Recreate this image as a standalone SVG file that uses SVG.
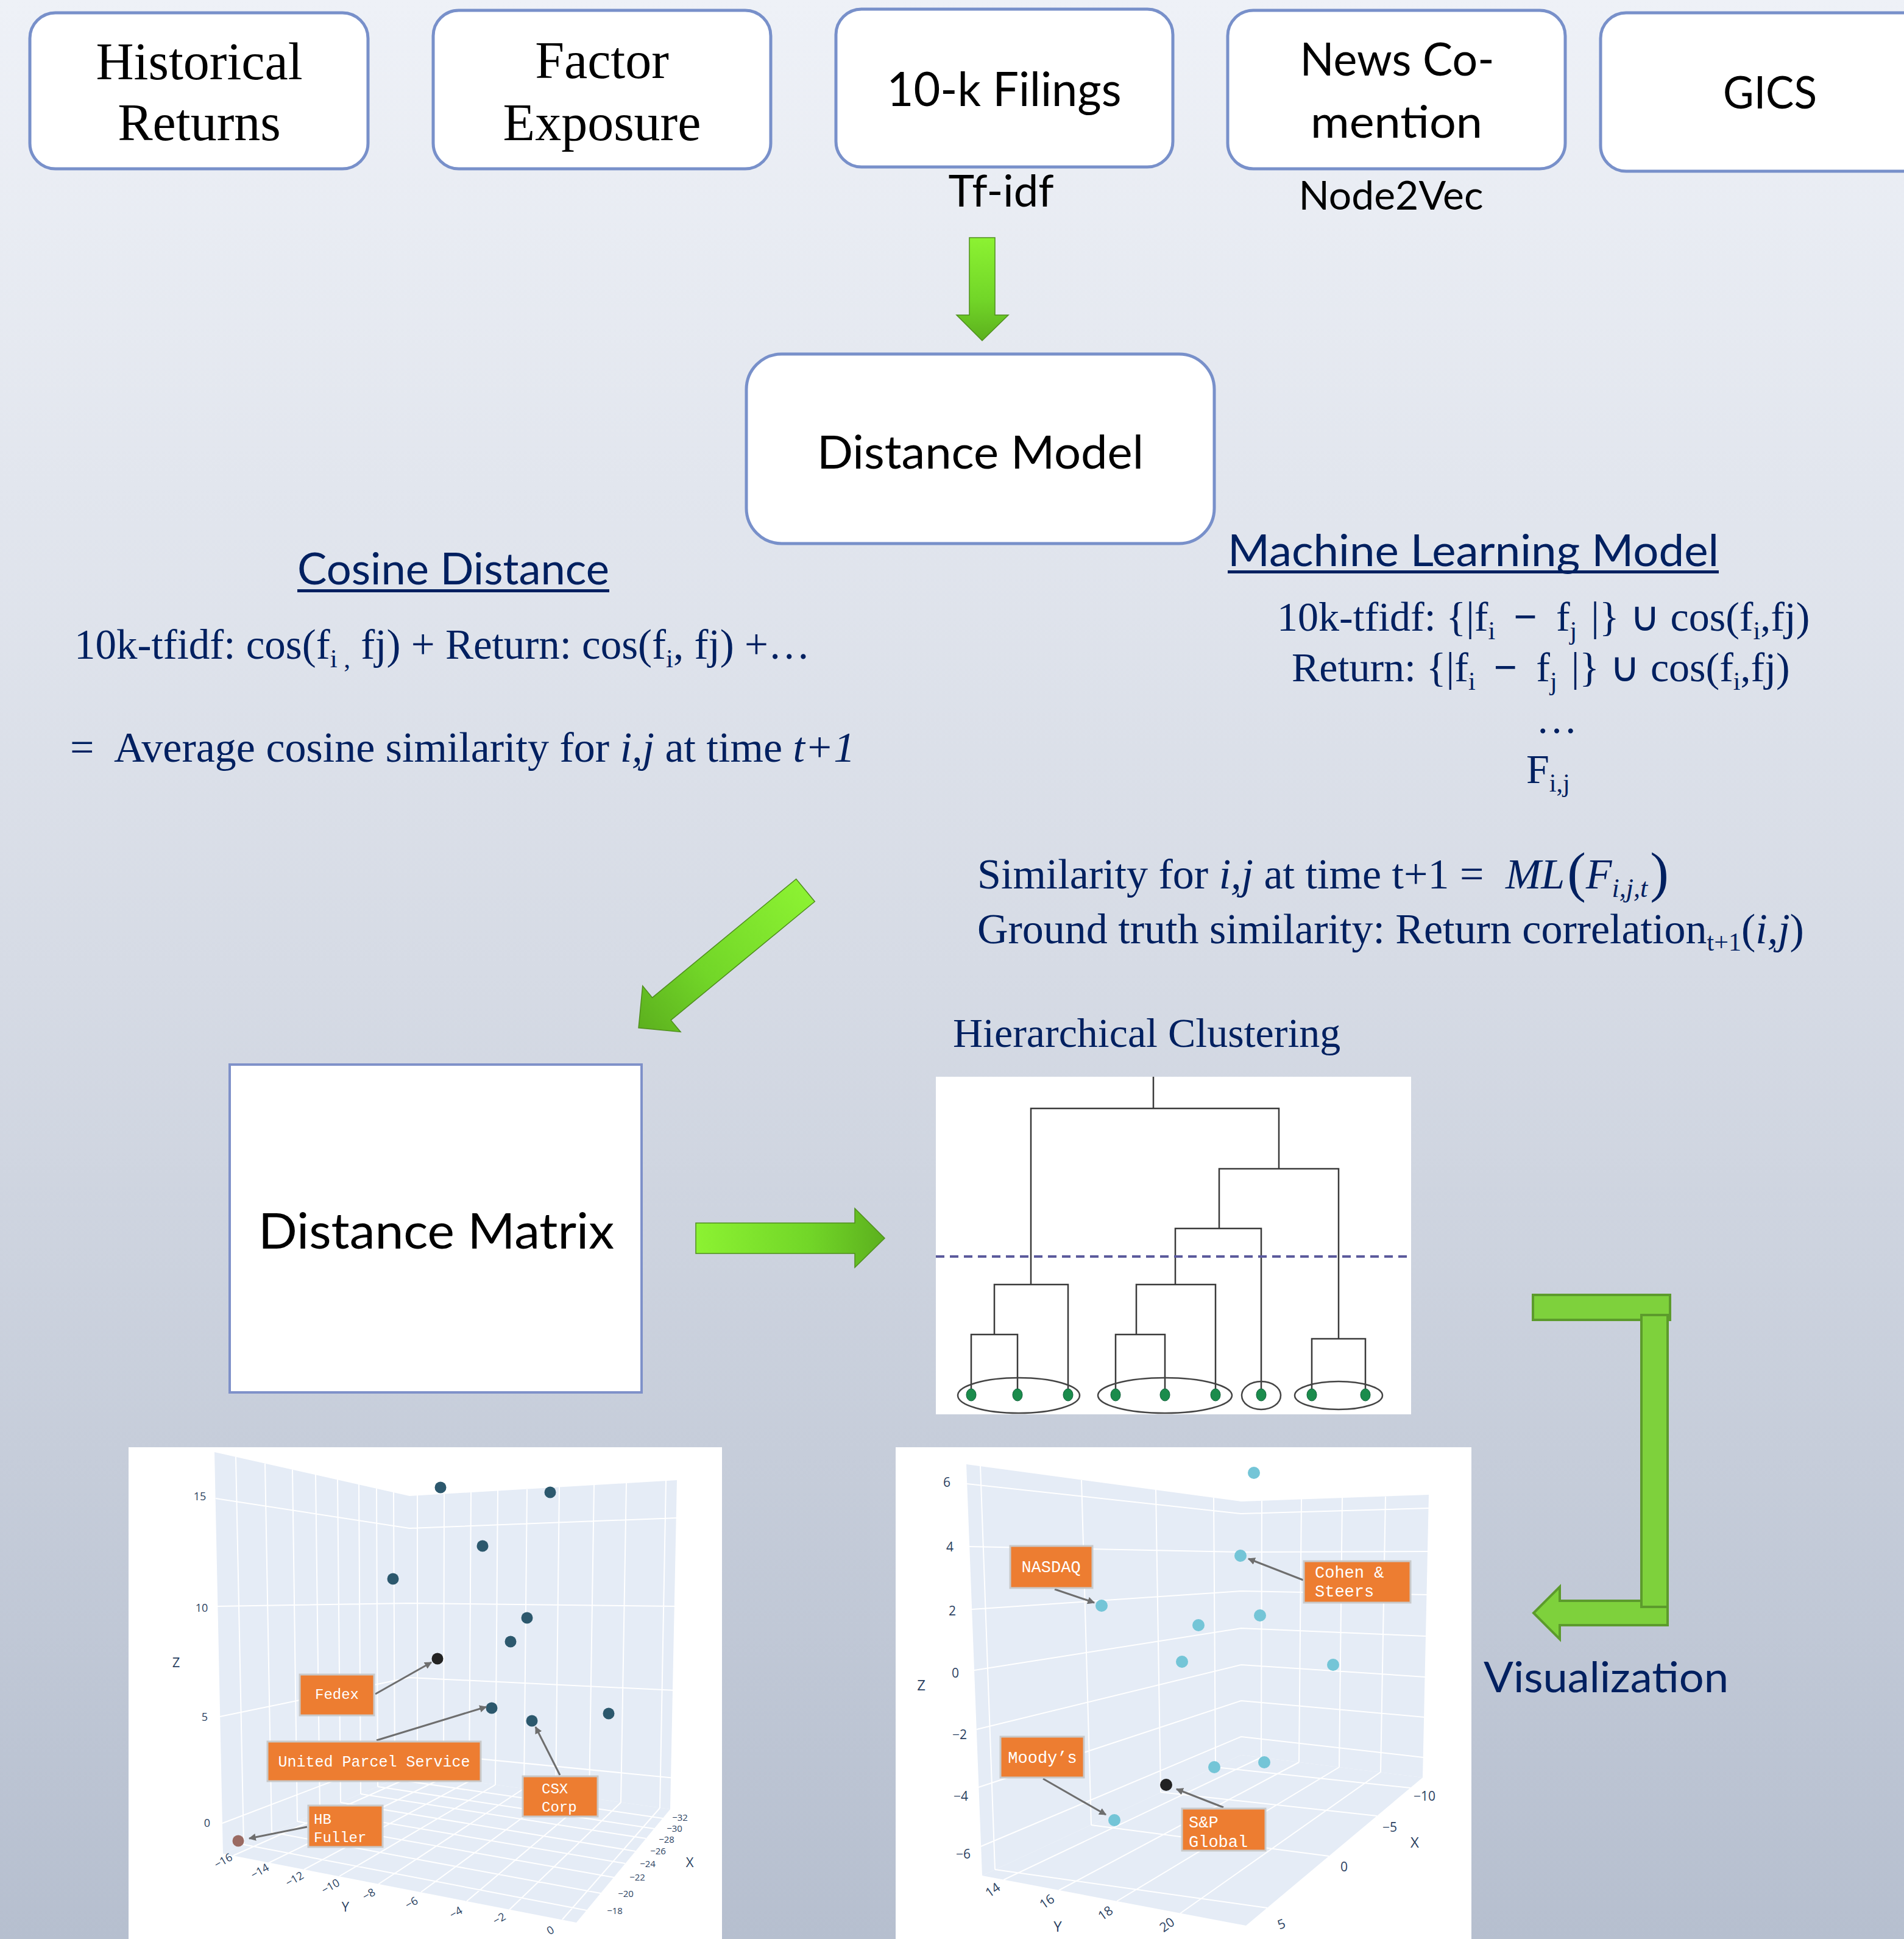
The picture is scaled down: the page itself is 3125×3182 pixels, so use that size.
<svg xmlns="http://www.w3.org/2000/svg" width="3125" height="3182" viewBox="0 0 3125 3182">
<style>
.box{fill:#fff;stroke:#7890CA;stroke-width:5}
.tm{font-family:"Liberation Serif","Times New Roman",serif}
.sn{font-family:Lato,"Liberation Sans",sans-serif}
.navy{fill:#002060}
.blk{fill:#000}
.pane{fill:#E5ECF6}
.grid{stroke:#fff;stroke-width:2;fill:none}
.tick{font-family:"Open Sans","Liberation Sans",sans-serif;fill:#2A3F5F;text-anchor:middle;dominant-baseline:central}
.ann{fill:#ED7D31;stroke:#C9C9C9;stroke-width:3}
.annt{font-family:"Liberation Mono","Courier New",monospace;fill:#fff}
.annl{stroke:#6E6E6E;stroke-width:3;fill:none;marker-end:url(#ah)}
.ptl{fill:#2C586D}
.ptr{fill:#74C5D7}
.dend{stroke:#3A3A3A;stroke-width:2.5;fill:none}
.leaf{fill:#1B8C4C;stroke:#10603A;stroke-width:1}
.clu{stroke:#444;stroke-width:2.5;fill:none}
.garrow{stroke:#4F8F1E;stroke-width:1.5}
.bent{fill:#7ED13C;stroke:#5C9B2C;stroke-width:4}
</style>
<defs>
<linearGradient id="bg" x1="0" y1="0" x2="0" y2="1">
<stop offset="0" stop-color="#EEF1F7"/>
<stop offset="0.5" stop-color="#D6DBE5"/>
<stop offset="1" stop-color="#B6BFCF"/>
</linearGradient>
<linearGradient id="gH" x1="0" y1="0" x2="1" y2="0">
<stop offset="0" stop-color="#8CF232"/>
<stop offset="0.6" stop-color="#72D628"/>
<stop offset="1" stop-color="#5CB01E"/>
</linearGradient>
<linearGradient id="gV" x1="0" y1="0" x2="0" y2="1">
<stop offset="0" stop-color="#8CF232"/>
<stop offset="0.6" stop-color="#72D628"/>
<stop offset="1" stop-color="#5CB01E"/>
</linearGradient>
<marker id="ah" viewBox="0 0 10 10" refX="9" refY="5" markerWidth="4" markerHeight="4" orient="auto" markerUnits="strokeWidth">
<path d="M0,0 L10,5 L0,10 z" fill="#6E6E6E"/>
</marker>
</defs>

<rect x="0" y="0" width="3125" height="3182" fill="url(#bg)"/>

<!-- Top source boxes -->
<g id="historical-returns">
<rect class="box" x="49" y="21" width="555" height="256" rx="42"/>
<text class="tm blk" font-size="86" text-anchor="middle" x="327" y="130">Historical</text>
<text class="tm blk" font-size="86" text-anchor="middle" x="327" y="230">Returns</text>
</g>
<g id="factor-exposure">
<rect class="box" x="711" y="17" width="554" height="260" rx="42"/>
<text class="tm blk" font-size="86" text-anchor="middle" x="988" y="128">Factor</text>
<text class="tm blk" font-size="86" text-anchor="middle" x="988" y="230">Exposure</text>
</g>
<g id="tenk-filings">
<rect class="box" x="1372" y="15" width="553" height="259" rx="42"/>
<text class="sn blk" font-size="77" text-anchor="middle" x="1648" y="174" textLength="385" lengthAdjust="spacingAndGlyphs">10-k Filings</text>
<text class="sn blk" font-size="72" text-anchor="middle" x="1643" y="339" textLength="173" lengthAdjust="spacingAndGlyphs">Tf-idf</text>
</g>
<g id="news-comention">
<rect class="box" x="2015" y="17" width="554" height="260" rx="42"/>
<text class="sn blk" font-size="75" text-anchor="middle" x="2293" y="124" textLength="319" lengthAdjust="spacingAndGlyphs">News Co-</text>
<text class="sn blk" font-size="74" text-anchor="middle" x="2292" y="226" textLength="282" lengthAdjust="spacingAndGlyphs">mention</text>
<text class="sn blk" font-size="65" text-anchor="middle" x="2283" y="344" textLength="303" lengthAdjust="spacingAndGlyphs">Node2Vec</text>
</g>
<g id="gics">
<rect class="box" x="2627" y="21" width="560" height="260" rx="42"/>
<text class="sn blk" font-size="74" text-anchor="middle" x="2905" y="178" textLength="154" lengthAdjust="spacingAndGlyphs">GICS</text>
</g>

<!-- Distance model -->
<g id="distance-model">
<rect class="box" x="1225" y="581" width="768" height="311" rx="58"/>
<text class="sn blk" font-size="76" text-anchor="middle" x="1609" y="769" textLength="536" lengthAdjust="spacingAndGlyphs">Distance Model</text>
</g>

<!-- Cosine distance -->
<g id="cosine-distance">
<text class="sn navy" font-size="72" x="488" y="959" textLength="512" lengthAdjust="spacingAndGlyphs">Cosine Distance</text>
<rect class="navy" x="488" y="967" width="512" height="5"/>
<text class="tm navy" font-size="69" x="122" y="1081">10k-tfidf: cos(f<tspan font-size="43" dy="14">i ,</tspan><tspan dy="-14"> fj) + Return: cos(f</tspan><tspan font-size="43" dy="14">i</tspan><tspan dy="-14">, fj) +…</tspan></text>
<text class="tm navy" font-size="70" x="115" y="1250">=<tspan x="187">Average cosine similarity for </tspan><tspan font-style="italic">i,j</tspan> at time <tspan font-style="italic">t+1</tspan></text>
</g>

<!-- Machine learning model -->
<g id="ml-model">
<text class="sn navy" font-size="72" x="2015" y="929" textLength="806" lengthAdjust="spacingAndGlyphs">Machine Learning Model</text>
<rect class="navy" x="2015" y="936" width="806" height="5"/>
<text class="tm navy" font-size="68" x="2096" y="1035">10k-tfidf: {|f<tspan font-size="42" dy="14">i</tspan><tspan dy="-14" dx="30" font-weight="bold">− </tspan><tspan dx="14">f</tspan><tspan font-size="42" dy="14">j</tspan><tspan dy="-14" dx="6"> |} ∪ cos(f</tspan><tspan font-size="42" dy="14">i</tspan><tspan dy="-14">,fj)</tspan></text>
<text class="tm navy" font-size="68" x="2120" y="1118">Return: {|f<tspan font-size="42" dy="14">i</tspan><tspan dy="-14" dx="30" font-weight="bold">− </tspan><tspan dx="14">f</tspan><tspan font-size="42" dy="14">j</tspan><tspan dy="-14" dx="6"> |} ∪ cos(f</tspan><tspan font-size="42" dy="14">i</tspan><tspan dy="-14">,fj)</tspan></text>
<text class="tm navy" font-size="68" x="2521" y="1203">…</text>
<text class="tm navy" font-size="68" x="2505" y="1285">F<tspan font-size="42" dy="14">i,j</tspan></text>
<text class="tm navy" font-size="70" x="1604" y="1458">Similarity for <tspan font-style="italic">i,j</tspan> at time t+1 = <tspan font-style="italic" dx="18">ML</tspan><tspan font-size="92" dy="4" dx="4">(</tspan><tspan font-style="italic" dy="-4">F</tspan><tspan font-style="italic" font-size="44" dy="14">i,j,t</tspan><tspan font-size="92" dy="-10" dx="4">)</tspan></text>
<text class="tm navy" font-size="70" x="1604" y="1548">Ground truth similarity: Return correlation<tspan font-size="42" dy="12">t+1</tspan><tspan dy="-12">(</tspan><tspan font-style="italic">i,j</tspan>)</text>
</g>

<!-- Distance matrix -->
<g id="distance-matrix">
<rect x="377" y="1747" width="676" height="538" fill="#fff" stroke="#7F91C9" stroke-width="4"/>
<text class="sn blk" font-size="82" x="424" y="2049" textLength="584" lengthAdjust="spacingAndGlyphs">Distance Matrix</text>
</g>

<!-- Hierarchical clustering -->
<g id="hierarchical-clustering">
<text class="tm navy" font-size="68" x="1564" y="1718">Hierarchical Clustering</text>
<rect x="1536" y="1767" width="780" height="554" fill="#fff"/>
<path class="dend" d="M1893,1767 V1819 M1692,2108 V1819 H2099 V1918 M2001,2016 V1918 H2197 V2197 M1929,2108 V2016 H2070 V2289 M1632,2190 V2108 H1753 V2289 M1594,2289 V2190 H1670 V2289 M1865,2190 V2108 H1995 V2289 M1831,2289 V2190 H1912 V2289 M2153,2289 V2197 H2241 V2289"/>
<path d="M1536,2062 H2316" stroke="#5B5A9C" stroke-width="4" stroke-dasharray="14 9" fill="none"/>
<ellipse class="clu" cx="1672" cy="2290" rx="100" ry="29"/>
<ellipse class="clu" cx="1912" cy="2290" rx="110" ry="29"/>
<ellipse class="clu" cx="2070" cy="2290" rx="32" ry="23"/>
<ellipse class="clu" cx="2197" cy="2290" rx="72" ry="23"/>
<g>
<ellipse class="leaf" cx="1594" cy="2289" rx="8" ry="10"/>
<ellipse class="leaf" cx="1670" cy="2289" rx="8" ry="10"/>
<ellipse class="leaf" cx="1753" cy="2289" rx="8" ry="10"/>
<ellipse class="leaf" cx="1831" cy="2289" rx="8" ry="10"/>
<ellipse class="leaf" cx="1912" cy="2289" rx="8" ry="10"/>
<ellipse class="leaf" cx="1995" cy="2289" rx="8" ry="10"/>
<ellipse class="leaf" cx="2070" cy="2289" rx="8" ry="10"/>
<ellipse class="leaf" cx="2153" cy="2289" rx="8" ry="10"/>
<ellipse class="leaf" cx="2241" cy="2289" rx="8" ry="10"/>
</g>
</g>

<!-- Left 3D plot -->
<g id="plot-left">
<rect x="211" y="2375" width="974" height="807" fill="#fff"/>
<polygon class="pane" points="352,2383 672,2455 672,2909 366,3042"/>
<polygon class="pane" points="672,2455 1111,2429 1100,2969 672,2909"/>
<polygon class="pane" points="366,3042 672,2909 1100,2969 946,3155"/>
<path class="grid" d="M387,2391L400,3027M435,2402L446,3007M480,2412L488,2989M518,2420L525,2973M554,2428L559,2958M589,2436L592,2944M618,2443L620,2932M646,2449L648,2920
M685,2454L685,2911M729,2452L728,2917M773,2449L770,2923M817,2446L813,2929M865,2444L860,2935M918,2440L912,2943M975,2437L967,2950M1028,2434L1019,2958M1093,2430L1083,2967
M383,3045L685,2911M441,3057L728,2917M499,3068L770,2923M557,3079L813,2929M621,3092L860,2935M691,3105L912,2943M766,3120L967,2950M836,3134L1019,2958M923,3150L1083,2967
M400,3027L963,3135M446,3007L986,3107M488,2989L1008,3081M525,2973L1026,3058M559,2958L1043,3038M592,2944L1060,3017M620,2932L1074,3001M648,2920L1088,2984
M354,2459L672,2508M357,2636L672,2631M361,2817L672,2753M365,2992L672,2875
M672,2508L1111,2491M672,2631L1110,2636M672,2753L1109,2774M672,2875L1108,2918"/>
<g class="tick" font-size="18">
<text x="328" y="2455">15</text><text x="331" y="2638">10</text><text x="336" y="2817">5</text><text x="340" y="2991">0</text>
<text x="289" y="2727" font-size="22">Z</text>
<text transform="translate(366,3053) rotate(-30)">−16</text>
<text transform="translate(426,3070) rotate(-30)">−14</text>
<text transform="translate(483,3083) rotate(-30)">−12</text>
<text transform="translate(542,3095) rotate(-30)">−10</text>
<text transform="translate(605,3108) rotate(-30)">−8</text>
<text transform="translate(675,3122) rotate(-30)">−6</text>
<text transform="translate(748,3138) rotate(-30)">−4</text>
<text transform="translate(819,3148) rotate(-30)">−2</text>
<text transform="translate(903,3167) rotate(-30)">0</text>
<text x="567" y="3128" font-size="22">Y</text>
<g font-size="15">
<text x="1116" y="2982">−32</text><text x="1107" y="3000">−30</text><text x="1094" y="3018">−28</text><text x="1080" y="3037">−26</text>
<text x="1063" y="3058">−24</text><text x="1046" y="3080">−22</text><text x="1027" y="3107">−20</text><text x="1009" y="3135">−18</text>
</g>
<text x="1132" y="3055" font-size="22">X</text>
</g>
<g>
<circle class="ptl" cx="723" cy="2441" r="9.5"/>
<circle class="ptl" cx="903" cy="2449" r="9.5"/>
<circle class="ptl" cx="792" cy="2537" r="9.5"/>
<circle class="ptl" cx="645" cy="2591" r="9.5"/>
<circle class="ptl" cx="865" cy="2655" r="9.5"/>
<circle class="ptl" cx="838" cy="2694" r="9.5"/>
<circle cx="718" cy="2722" r="9.5" fill="#222"/>
<circle class="ptl" cx="807" cy="2803" r="9.5"/>
<circle class="ptl" cx="873" cy="2824" r="9.5"/>
<circle class="ptl" cx="999" cy="2812" r="9.5"/>
<circle cx="391" cy="3021" r="9.5" fill="#9A6A62"/>
</g>
<path class="annl" d="M616,2780 L708,2728"/>
<path class="annl" d="M618,2856 L798,2801"/>
<path class="annl" d="M919,2913 L879,2834"/>
<path class="annl" d="M504,2998 L409,3017"/>
<rect class="ann" x="492" y="2748" width="122" height="67"/>
<text class="annt" font-size="24" text-anchor="middle" x="553" y="2788">Fedex</text>
<rect class="ann" x="439" y="2858" width="350" height="65"/>
<text class="annt" font-size="25" text-anchor="middle" x="614" y="2899">United Parcel Service</text>
<rect class="ann" x="858" y="2915" width="123" height="66"/>
<text class="annt" font-size="24" x="889" y="2943">CSX</text>
<text class="annt" font-size="24" x="889" y="2973">Corp</text>
<rect class="ann" x="506" y="2963" width="122" height="68"/>
<text class="annt" font-size="24" x="515" y="2993">HB</text>
<text class="annt" font-size="24" x="515" y="3023">Fuller</text>
</g>

<!-- Right 3D plot -->
<g id="plot-right">
<rect x="1470" y="2375" width="945" height="807" fill="#fff"/>
<polygon class="pane" points="1586,2403 2037,2464 2037,2880 1612,3078"/>
<polygon class="pane" points="2037,2464 2345,2453 2335,2917 2037,2880"/>
<polygon class="pane" points="1612,3078 2037,2880 2335,2917 2045,3160"/>
<path class="grid" d="M1609,2406L1633,3068M1775,2429L1791,2995M1897,2445L1905,2941M1992,2458L1995,2900
M2071,2463L2070,2884M2136,2460L2132,2892M2203,2458L2198,2900M2274,2456L2266,2908
M1647,3085L2070,2884M1738,3102L2132,2892M1833,3120L2198,2900M1937,3140L2266,2908
M1633,3068L2080,3131M1791,2995L2181,3046M1905,2941L2260,2980M1995,2900L2315,2934
M1587,2435L2037,2484M1591,2538L2037,2547M1595,2641L2037,2611M1599,2741L2037,2672M1603,2838L2037,2732M1606,2933L2037,2791M1610,3030L2037,2850
M2037,2484L2345,2475M2037,2547L2343,2546M2037,2611L2342,2617M2037,2672L2340,2685M2037,2732L2339,2752M2037,2791L2338,2818M2037,2850L2336,2884"/>
<g class="tick" font-size="21">
<text x="1554" y="2432">6</text><text x="1559" y="2538">4</text><text x="1563" y="2643">2</text><text x="1568" y="2745">0</text>
<text x="1575" y="2846">−2</text><text x="1577" y="2947">−4</text><text x="1581" y="3042">−6</text>
<text x="1512" y="2764" font-size="24">Z</text>
<text transform="translate(1629,3101) rotate(-35)">14</text>
<text transform="translate(1718,3120) rotate(-35)">16</text>
<text transform="translate(1814,3139) rotate(-35)">18</text>
<text transform="translate(1915,3158) rotate(-35)">20</text>
<text x="1736" y="3160" font-size="24">Y</text>
<text x="2338" y="2947">−10</text><text x="2281" y="2998">−5</text><text x="2206" y="3063">0</text>
<text transform="translate(2103,3157) rotate(-20)">5</text>
<text x="2322" y="3022" font-size="24">X</text>
</g>
<g>
<circle class="ptr" cx="2058" cy="2417" r="10"/>
<circle class="ptr" cx="2036" cy="2553" r="10"/>
<circle class="ptr" cx="1808" cy="2635" r="10"/>
<circle class="ptr" cx="2068" cy="2651" r="10"/>
<circle class="ptr" cx="1967" cy="2667" r="10"/>
<circle class="ptr" cx="1940" cy="2727" r="10"/>
<circle class="ptr" cx="2188" cy="2732" r="10"/>
<circle class="ptr" cx="1993" cy="2900" r="10"/>
<circle class="ptr" cx="2075" cy="2892" r="10"/>
<circle cx="1914" cy="2929" r="10" fill="#222"/>
<circle class="ptr" cx="1829" cy="2987" r="10"/>
</g>
<path class="annl" d="M1731,2608 L1796,2630"/>
<path class="annl" d="M2139,2593 L2049,2558"/>
<path class="annl" d="M1712,2919 L1815,2978"/>
<path class="annl" d="M2008,2966 L1931,2936"/>
<rect class="ann" x="1658" y="2537" width="135" height="69"/>
<text class="annt" font-size="27" text-anchor="middle" x="1725" y="2580">NASDAQ</text>
<rect class="ann" x="2140" y="2562" width="175" height="68"/>
<text class="annt" font-size="27" x="2158" y="2589">Cohen &amp;</text>
<text class="annt" font-size="27" x="2158" y="2620">Steers</text>
<rect class="ann" x="1642" y="2850" width="137" height="67"/>
<text class="annt" font-size="27" text-anchor="middle" x="1711" y="2893">Moody’s</text>
<rect class="ann" x="1940" y="2968" width="137" height="69"/>
<text class="annt" font-size="27" x="1951" y="2999">S&amp;P</text>
<text class="annt" font-size="27" x="1951" y="3031">Global</text>
</g>

<!-- Visualization label -->
<g id="visualization">
<text class="sn navy" font-size="70" x="2435" y="2777" textLength="402" lengthAdjust="spacingAndGlyphs">Visualization</text>
</g>

<!-- Connectors -->
<g id="connectors">
<polygon class="garrow" fill="url(#gV)" points="1591,390 1633,390 1633,517 1655,517 1612,559 1570,517 1591,517"/>
<g transform="translate(1322,1461) rotate(140.5)">
<polygon class="garrow" fill="url(#gH)" points="0,-24 306,-24 306,-49 355,0 306,49 306,24 0,24"/>
</g>
<polygon class="garrow" fill="url(#gH)" points="1142,2007 1403,2007 1403,1983 1452,2032 1403,2080 1403,2057 1142,2057"/>
<g id="bent-arrow">
<rect class="bent" x="2516" y="2125" width="225" height="41"/>
<polygon class="bent" points="2737,2627 2560,2627 2560,2604 2517,2647 2560,2690 2560,2667 2737,2667"/>
<rect class="bent" x="2694" y="2158" width="43" height="479"/>
</g>
</g>
</svg>
